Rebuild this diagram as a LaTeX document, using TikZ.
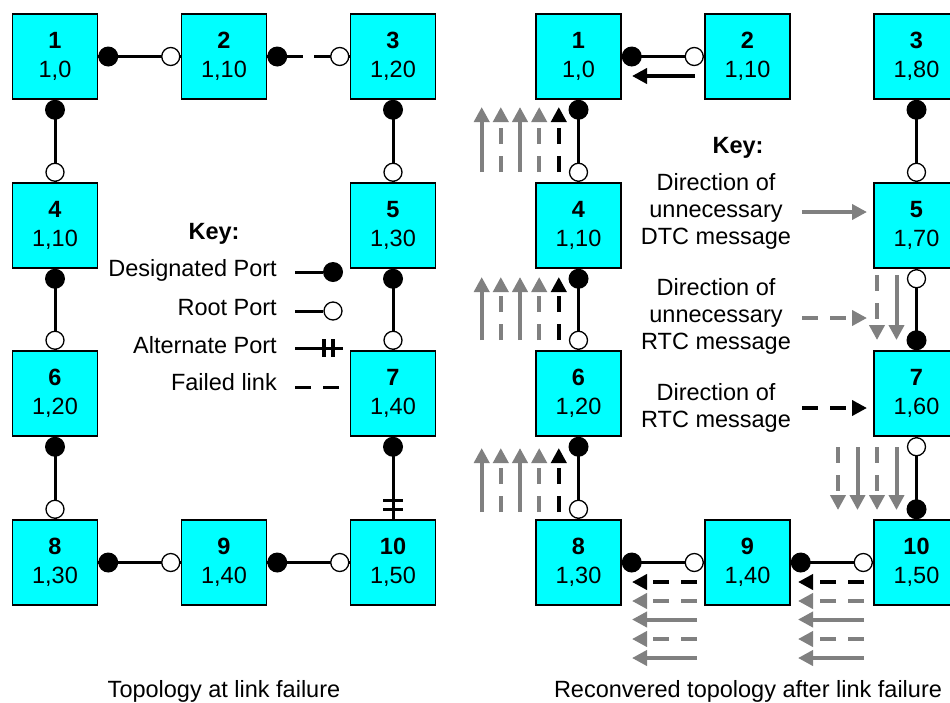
\documentclass[tikz,border=0pt]{standalone}
\usepackage{fontspec}
\setmainfont{Liberation Sans}
\usetikzlibrary{arrows.meta,calc}
\definecolor{boxcyan}{RGB}{0,255,255}
\definecolor{msggray}{RGB}{128,128,128}

\begin{document}
\begin{tikzpicture}[x=1pt,y=-1pt,
  font=\fontsize{23.5}{28.5}\selectfont,
  switchbox/.style={draw=black,fill=boxcyan,line width=1.5pt,minimum width=85pt,
    minimum height=85pt,inner sep=0pt,align=center},
  link/.style={line width=3pt},
  failed/.style={line width=3pt,dash pattern=on 36pt off 11pt},
  dport/.style={circle,fill=black,inner sep=0pt,minimum size=20pt},
  rport/.style={circle,draw=black,fill=white,line width=1.3pt,inner sep=0pt,minimum size=18pt},
  altbar/.style={line width=3.5pt},
  msg/.style={line width=4pt,-{Triangle[length=15pt,width=15pt]}},
  gsolid/.style={msg,draw=msggray},
  gdash/.style={msg,draw=msggray,dash pattern=on 16pt off 12pt},
  kdash/.style={msg,draw=black,dash pattern=on 16pt off 12pt},
  ksolid/.style={msg,draw=black},
  txt/.style={inner sep=0pt},
  keytxt/.style={inner sep=0pt,align=center,anchor=north,font=\fontsize{23.5}{27}\selectfont},
]
\fill[white] (0,0) rectangle (950,702);
\useasboundingbox (0,0) rectangle (950,702);

% ---------- left: topology at link failure ----------
\node[switchbox] (L1)  at (55,56.5)   {\textbf{1}\\1,0};
\node[switchbox] (L2)  at (224,56.5)  {\textbf{2}\\1,10};
\node[switchbox] (L3)  at (393,56.5)  {\textbf{3}\\1,20};
\node[switchbox] (L4)  at (55,225.5)  {\textbf{4}\\1,10};
\node[switchbox] (L5)  at (393,225.5) {\textbf{5}\\1,30};
\node[switchbox] (L6)  at (55,393.5)  {\textbf{6}\\1,20};
\node[switchbox] (L7)  at (393,393.5) {\textbf{7}\\1,40};
\node[switchbox] (L8)  at (55,562.5)  {\textbf{8}\\1,30};
\node[switchbox] (L9)  at (224,562.5) {\textbf{9}\\1,40};
\node[switchbox] (L10) at (393,562.5) {\textbf{10}\\1,50};

\draw[link]   (L1.east) -- (L2.west);
\draw[failed] (L2.east) -- (L3.west);
\draw[link]   (L1.south) -- (L4.north);
\draw[link]   (L3.south) -- (L5.north);
\draw[link]   (L4.south) -- (L6.north);
\draw[link]   (L5.south) -- (L7.north);
\draw[link]   (L6.south) -- (L8.north);
\draw[link]   (L7.south) -- (L10.north);
\draw[link]   (L8.east) -- (L9.west);
\draw[link]   (L9.east) -- (L10.west);

\node[dport] (L1e) at ($(L1.east)+(10,0)$) {};
\node[rport] (L2w) at ($(L2.west)+(-10,0)$) {};
\node[dport] (L2e) at ($(L2.east)+(10,0)$) {};
\node[rport] (L3w) at ($(L3.west)+(-10,0)$) {};
\node[dport] (L1s) at ($(L1.south)+(0,10)$) {};
\node[rport] (L4n) at ($(L4.north)+(0,-10)$) {};
\node[dport] (L3s) at ($(L3.south)+(0,10)$) {};
\node[rport] (L5n) at ($(L5.north)+(0,-10)$) {};
\node[dport] (L4s) at ($(L4.south)+(0,10)$) {};
\node[rport] (L6n) at ($(L6.north)+(0,-10)$) {};
\node[dport] (L5s) at ($(L5.south)+(0,10)$) {};
\node[rport] (L7n) at ($(L7.north)+(0,-10)$) {};
\node[dport] (L6s) at ($(L6.south)+(0,10)$) {};
\node[rport] (L8n) at ($(L8.north)+(0,-10)$) {};
\node[dport] (L7s) at ($(L7.south)+(0,10)$) {};
\node[dport] (L8e) at ($(L8.east)+(10,0)$) {};
\node[rport] (L9w) at ($(L9.west)+(-10,0)$) {};
\node[dport] (L9e) at ($(L9.east)+(10,0)$) {};
\node[rport] (L10w) at ($(L10.west)+(-10,0)$) {};
% alternate port of switch 10
\draw[altbar] ($(L10.north)+(-10,-10)$) -- ++(20,0);
\draw[altbar] ($(L10.north)+(-10,-19)$) -- ++(20,0);

% key
\node[txt,anchor=base] (keyL) at (214,239) {\textbf{Key:}};
\node[txt,anchor=base east] (kdes) at (277,276) {Designated Port};
\node[txt,anchor=base east] (kroot) at (277,315) {Root Port};
\node[txt,anchor=base east] (kalt) at (277,353) {Alternate Port};
\node[txt,anchor=base east] (kfail) at (277,390) {Failed link};

\coordinate (kdesA) at (295,272);
\node[dport] (kdesP) at (333,272) {};
\draw[link] (kdesA) -- (kdesP);
\coordinate (krootA) at (295,311);
\draw[link] (krootA) -- (323,311);
\node[rport] (krootP) at (333,311) {};
\coordinate (kaltA) at (295,348);
\coordinate (kaltB) at (343,348);
\draw[link] (kaltA) -- (kaltB);
\draw[altbar] (324,339) -- (324,357);
\draw[altbar] (333,339) -- (333,357);
\coordinate (kfailA) at (295,387);
\coordinate (kfailB) at (339,387);
\draw[line width=3pt,dash pattern=on 16pt off 12pt] (kfailA) -- (kfailB);

\node[txt,anchor=base] (capL) at (224,697.5) {Topology at link failure};

% ---------- right: recovered topology ----------
\node[switchbox] (R1)  at (578.5,56.5)  {\textbf{1}\\1,0};
\node[switchbox] (R2)  at (747.5,56.5)  {\textbf{2}\\1,10};
\node[switchbox] (R3)  at (916.5,56.5)  {\textbf{3}\\1,80};
\node[switchbox] (R4)  at (578.5,225.5) {\textbf{4}\\1,10};
\node[switchbox] (R5)  at (916.5,225.5) {\textbf{5}\\1,70};
\node[switchbox] (R6)  at (578.5,393.5) {\textbf{6}\\1,20};
\node[switchbox] (R7)  at (916.5,393.5) {\textbf{7}\\1,60};
\node[switchbox] (R8)  at (578.5,562.5) {\textbf{8}\\1,30};
\node[switchbox] (R9)  at (747.5,562.5) {\textbf{9}\\1,40};
\node[switchbox] (R10) at (916.5,562.5) {\textbf{10}\\1,50};

\draw[link] (R1.east) -- (R2.west);
\draw[link] (R1.south) -- (R4.north);
\draw[link] (R3.south) -- (R5.north);
\draw[link] (R4.south) -- (R6.north);
\draw[link] (R5.south) -- (R7.north);
\draw[link] (R6.south) -- (R8.north);
\draw[link] (R7.south) -- (R10.north);
\draw[link] (R8.east) -- (R9.west);
\draw[link] (R9.east) -- (R10.west);

\node[dport] (R1e) at ($(R1.east)+(10,0)$) {};
\node[rport] (R2w) at ($(R2.west)+(-10,0)$) {};
\node[dport] (R1s) at ($(R1.south)+(0,10)$) {};
\node[rport] (R4n) at ($(R4.north)+(0,-10)$) {};
\node[dport] (R3s) at ($(R3.south)+(0,10)$) {};
\node[rport] (R5n) at ($(R5.north)+(0,-10)$) {};
\node[dport] (R4s) at ($(R4.south)+(0,10)$) {};
\node[rport] (R6n) at ($(R6.north)+(0,-10)$) {};
\node[rport] (R5s) at ($(R5.south)+(0,10)$) {};
\node[dport] (R7n) at ($(R7.north)+(0,-10)$) {};
\node[dport] (R6s) at ($(R6.south)+(0,10)$) {};
\node[rport] (R8n) at ($(R8.north)+(0,-10)$) {};
\node[rport] (R7s) at ($(R7.south)+(0,10)$) {};
\node[dport] (R10n) at ($(R10.north)+(0,-10)$) {};
\node[dport] (R8e) at ($(R8.east)+(10,0)$) {};
\node[rport] (R9w) at ($(R9.west)+(-10,0)$) {};
\node[dport] (R9e) at ($(R9.east)+(10,0)$) {};
\node[rport] (R10w) at ($(R10.west)+(-10,0)$) {};

% message from 2 to 1
\coordinate (m21a) at (695,76);
\coordinate (m21b) at (632,76);
\draw[ksolid] (m21a) -- (m21b);

% upward messages along the left column
\foreach \ya/\yb in {172/107,340/277,512/448} {
  \draw[gsolid] (481.7,\ya) -- (481.7,\yb);
  \draw[gdash]  (500.8,\ya) -- (500.8,\yb);
  \draw[gsolid] (520,\ya)   -- (520,\yb);
  \draw[gdash]  (539.2,\ya) -- (539.2,\yb);
  \draw[kdash]  (558.8,\ya) -- (558.8,\yb);
}
% downward messages along the right column
\draw[gdash]  (877,275) -- (877,340);
\draw[gsolid] (896.5,275) -- (896.5,340);
\draw[gdash]  (838,447) -- (838,510);
\draw[gsolid] (857.5,447) -- (857.5,510);
\draw[gdash]  (877,447) -- (877,510);
\draw[gsolid] (896.5,447) -- (896.5,510);
% leftward messages along the bottom row
\foreach \xa/\xb in {697/632,864/798} {
  \draw[kdash]  (\xa,582)   -- (\xb,582);
  \draw[gdash]  (\xa,601)   -- (\xb,601);
  \draw[gsolid] (\xa,619.5) -- (\xb,619.5);
  \draw[gdash]  (\xa,639)   -- (\xb,639);
  \draw[gsolid] (\xa,658)   -- (\xb,658);
}

% key
\node[txt,anchor=base] (keyR) at (738,153) {\textbf{Key:}};
\node[keytxt] (kdtc) at (716,172.9) {Direction of\\unnecessary\\DTC message};
\node[keytxt] (kurtc) at (716,277.9) {Direction of\\unnecessary\\RTC message};
\node[keytxt] (krtc) at (716,383.6) {Direction of\\RTC message};
\coordinate (kdtcA) at (802,212);
\coordinate (kdtcB) at (867,212);
\draw[gsolid] (kdtcA) -- (kdtcB);
\coordinate (kurtcA) at (802,318);
\coordinate (kurtcB) at (867,318);
\draw[gdash] (kurtcA) -- (kurtcB);
\coordinate (krtcA) at (802,408);
\coordinate (krtcB) at (867,408);
\draw[kdash] (krtcA) -- (krtcB);

\node[txt,anchor=base] (capR) at (748,697.5) {Reconvered topology after link failure};
\end{tikzpicture}
\end{document}
